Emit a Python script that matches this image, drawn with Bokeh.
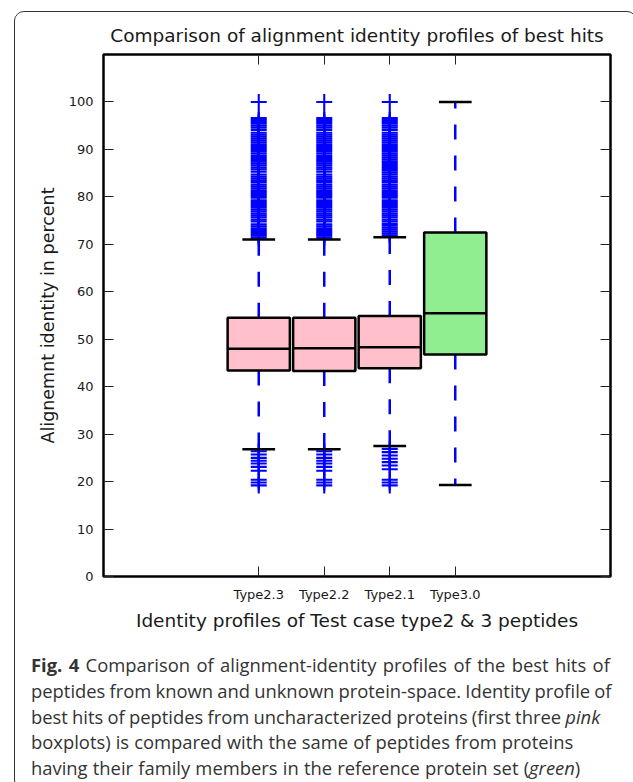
from bokeh.plotting import figure
from bokeh.models import ColumnDataSource, FixedTicker, LinearAxis, Div
from bokeh.layouts import column
from bokeh.embed import file_html
from bokeh.resources import INLINE

# ---------------- data ----------------
categories = ["Type2.3", "Type2.2", "Type2.1", "Type3.0"]
positions = [1, 2, 3, 4]
q1 = [43.4, 43.3, 43.9, 46.8]
medians = [48.0, 48.1, 48.3, 55.5]
q3 = [54.5, 54.5, 54.9, 72.5]
whisker_low = [26.8, 26.8, 27.5, 19.3]
whisker_high = [71.0, 71.0, 71.5, 100.0]
box_colors = ["pink", "pink", "pink", "lightgreen"]

upper_23 = [71.4, 71.8, 72.2, 72.6, 73.0, 73.4, 73.8, 74.2, 74.8, 75.2, 75.7, 76.1, 76.5,
            76.9, 77.3, 77.7, 78.1, 78.5, 78.9, 79.3, 79.8, 80.2, 80.6, 81.0, 81.4, 81.8,
            82.2, 82.6, 83.1, 83.5, 83.9, 84.3, 84.7, 85.3, 85.8, 86.2, 86.6, 87.0, 87.4,
            87.8, 88.2, 88.6, 89.1, 89.5, 89.9, 90.3, 90.7, 91.1, 91.5, 91.9, 92.3, 92.7,
            93.1, 93.5, 94.1, 94.6, 95.0, 95.4, 95.8, 96.2, 96.6, 100.0]
lower_23 = [26.4, 25.7, 25.0, 24.4, 23.8, 23.1, 22.3, 20.4, 19.8, 19.2]
upper_22 = [71.4, 71.8, 72.2, 72.6, 73.0, 73.4, 73.8, 74.2, 74.8, 75.2, 75.7, 76.1, 76.5,
            76.9, 77.3, 77.7, 78.1, 78.5, 78.9, 79.3, 79.8, 80.2, 80.6, 81.0, 81.4, 81.8,
            82.2, 82.6, 83.1, 83.5, 83.9, 84.3, 84.7, 85.3, 85.8, 86.2, 86.6, 87.0, 87.4,
            87.8, 88.2, 88.6, 89.1, 89.5, 89.9, 90.3, 90.7, 91.1, 91.5, 91.9, 92.3, 92.7,
            93.1, 93.5, 94.1, 94.6, 95.0, 95.4, 95.8, 96.2, 96.6, 100.0]
lower_22 = [26.4, 25.7, 25.0, 24.4, 23.8, 23.1, 22.3, 20.4, 19.8, 19.2]
upper_21 = [71.9, 72.3, 72.7, 73.1, 73.5, 73.9, 74.3, 74.8, 75.2, 75.7, 76.1, 76.5,
            76.9, 77.3, 77.7, 78.1, 78.5, 78.9, 79.3, 79.8, 80.2, 80.6, 81.0, 81.4, 81.8,
            82.2, 82.6, 83.1, 83.5, 83.9, 84.3, 84.7, 85.1, 85.5, 85.9, 86.3, 86.7, 87.1,
            87.5, 87.9, 88.3, 88.7, 89.1, 89.5, 89.9, 90.3, 90.7, 91.1, 91.5, 91.9, 92.3,
            92.7, 93.1, 93.5, 94.1, 94.6, 95.0, 95.4, 95.8, 96.2, 96.6, 100.0]
lower_21 = [26.9, 26.2, 25.5, 24.8, 24.1, 23.4, 22.6, 20.4, 19.8, 19.2]
outliers = [upper_23 + lower_23, upper_22 + lower_22, upper_21 + lower_21, []]

y_ticks = [0, 10, 20, 30, 40, 50, 60, 70, 80, 90, 100]

title_text = "Comparison of alignment identity profiles of best hits"
x_label = "Identity profiles of Test case type2 & 3 peptides"
y_label = "Alignemnt identity in percent"

caption_lines = [
    "<b>Fig. 4</b> Comparison of alignment-identity profiles of the best hits of",
    "peptides from known and unknown protein-space. Identity profile of",
    "best hits of peptides from uncharacterized proteins (first three <i>pink</i>",
    "boxplots) is compared with the same of peptides from proteins",
    "having their family members in the reference protein set (<i>green</i>)",
]
caption_word_spacing = ["1.6px", "-0.6px", "-0.6px", "0.3px", "0.4px"]

# ---------------- figure ----------------
W, H = 611, 628
p = figure(width=W, height=H, x_range=(-1.37, 6.37), y_range=(0, 110),
           output_backend="svg", toolbar_location=None,
           min_border_left=88, min_border_right=16, min_border_top=42, min_border_bottom=64)
p.background_fill_color = "white"
p.border_fill_color = "white"
p.xgrid.visible = False
p.ygrid.visible = False
p.outline_line_color = "black"
p.outline_line_width = 2.5
p.outline_line_alpha = 1.0

DJ = "DejaVu Sans"
TXT = "#1a1a1a"

p.title.text = title_text
p.title.align = "center"
p.title.text_font = DJ
p.title.text_font_size = "18.5px"
p.title.text_font_style = "normal"
p.title.text_color = TXT
p.title.standoff = 18

# left axis
ya = p.yaxis[0]
ya.ticker = FixedTicker(ticks=y_ticks)
ya.major_tick_in = 10
ya.major_tick_out = 0
ya.minor_tick_line_color = None
ya.axis_line_color = None
ya.major_tick_line_color = "#222"
ya.major_tick_line_width = 1
ya.major_label_standoff = 10
ya.major_label_text_font = DJ
ya.major_label_text_font_size = "13px"
ya.major_label_text_color = TXT
ya.axis_label = y_label
ya.axis_label_text_font = DJ
ya.axis_label_text_font_size = "17.5px"
ya.axis_label_text_font_style = "normal"
ya.axis_label_text_color = TXT
ya.axis_label_standoff = 8

# bottom axis
xa = p.xaxis[0]
xa.ticker = FixedTicker(ticks=positions)
xa.major_label_overrides = {pos: cat for pos, cat in zip(positions, categories)}
xa.major_tick_in = 10
xa.major_tick_out = 0
xa.minor_tick_line_color = None
xa.axis_line_color = None
xa.major_tick_line_color = "#222"
xa.major_tick_line_width = 1
xa.major_label_standoff = 10
xa.major_label_text_font = DJ
xa.major_label_text_font_size = "13px"
xa.major_label_text_color = TXT
xa.axis_label = x_label
xa.axis_label_text_font = DJ
xa.axis_label_text_font_size = "18.5px"
xa.axis_label_text_font_style = "normal"
xa.axis_label_text_color = TXT
xa.axis_label_standoff = 5

# right / top axes: inward ticks only, no labels
ra = LinearAxis(ticker=FixedTicker(ticks=y_ticks), major_tick_in=10, major_tick_out=0,
                minor_tick_line_color=None, axis_line_color=None,
                major_tick_line_color="#222",
                major_label_overrides={t: "" for t in y_ticks},
                major_label_text_color=None, major_label_standoff=0)
p.add_layout(ra, "right")
ta = LinearAxis(ticker=FixedTicker(ticks=positions), major_tick_in=10, major_tick_out=0,
                minor_tick_line_color=None, axis_line_color=None,
                major_tick_line_color="#222",
                major_label_overrides={t: "" for t in positions},
                major_label_text_color=None, major_label_standoff=0)
p.add_layout(ta, "above")

# ---------------- boxplots ----------------
BOX_W = 0.95
CAP_W = 0.5
src = ColumnDataSource(dict(
    x=positions, q1=q1, q3=q3, med=medians, lo=whisker_low, hi=whisker_high,
    color=box_colors,
    bl=[x - BOX_W / 2 for x in positions], br=[x + BOX_W / 2 for x in positions],
    cl=[x - CAP_W / 2 for x in positions], cr=[x + CAP_W / 2 for x in positions],
))

p.segment(x0="x", y0="q3", x1="x", y1="hi", source=src, line_color="blue",
          line_width=2.5, line_dash="15 16")
p.segment(x0="x", y0="q1", x1="x", y1="lo", source=src, line_color="blue",
          line_width=2.5, line_dash="15 16")

p.vbar(x="x", width=BOX_W, bottom="q1", top="q3", source=src, fill_color="color",
       line_color="black", line_width=2.5)
p.segment(x0="bl", y0="med", x1="br", y1="med", source=src, line_color="black",
          line_width=2.5)

ox, oy = [], []
for pos, vals in zip(positions, outliers):
    ox += [pos] * len(vals)
    oy += vals
p.scatter(x=ox, y=oy, marker="cross", size=16, line_color="blue", line_width=2.1)

p.segment(x0="cl", y0="hi", x1="cr", y1="hi", source=src, line_color="black", line_width=2.5)
p.segment(x0="cl", y0="lo", x1="cr", y1="lo", source=src, line_color="black", line_width=2.5)

# ---------------- caption ----------------
lines_html = "".join(
    f'<div style="word-spacing:{ws};">{ln}</div>'
    for ln, ws in zip(caption_lines, caption_word_spacing)
)
cap_html = (
    '<div style="font-family:\'Open Sans\',sans-serif;font-size:18.4px;line-height:25.75px;'
    'color:#333333;white-space:nowrap;padding:7px 0 0 11px;margin:0;">'
    + lines_html + "</div>"
)
caption = Div(text=cap_html, width=W, height=139)

layout = column(p, caption, margin=(11, 0, 0, 14), spacing=0,
                styles={"border": "1.5px solid #333333", "border-radius": "10px",
                        "overflow": "hidden", "box-sizing": "content-box"})

open("out.html", "w").write(file_html(layout, INLINE))
